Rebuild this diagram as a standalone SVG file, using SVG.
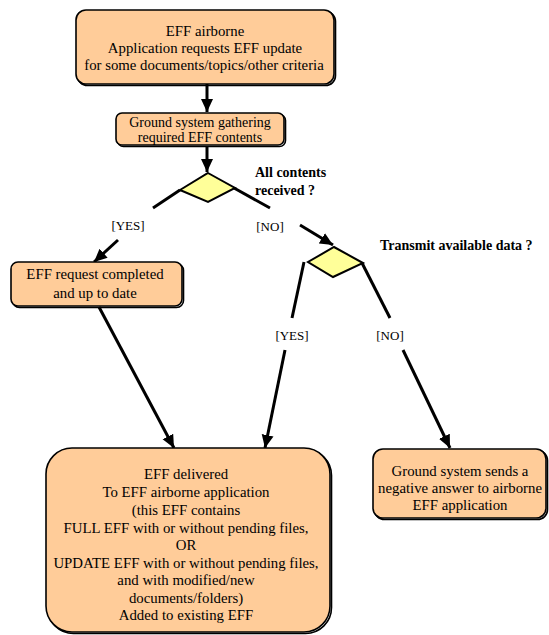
<svg xmlns="http://www.w3.org/2000/svg" width="549" height="635" viewBox="0 0 549 635">
  <style>
    .box { fill: #FFCC99; stroke: #000; stroke-width: 1.6; }
    .shadow { fill: none; stroke: #000; stroke-width: 1.6; }
    .dia { fill: #FFFF99; stroke: #000; stroke-width: 2; stroke-linejoin: miter; }
    .t { font-family: 'Liberation Serif', 'DejaVu Serif', 'Times New Roman', serif; font-size: 14.8px; fill: #000; text-anchor: middle; }
    .s { font-size: 14px; }
    .q { font-family: 'Liberation Serif', 'DejaVu Serif', 'Times New Roman', serif; font-size: 14px; font-weight: bold; fill: #000; }
    .lbl { font-family: 'Liberation Serif', 'DejaVu Serif', 'Times New Roman', serif; font-size: 13px; fill: #000; text-anchor: middle; }
    .edge { fill: none; stroke: #000; stroke-width: 3; stroke-linecap: butt; }
  </style>
  <defs>
    <marker id="arrow" markerUnits="userSpaceOnUse" markerWidth="14" markerHeight="14" viewBox="0 0 14 14" refX="13" refY="7" orient="auto">
      <path d="M0,1 L13,7 L0,13 Z" fill="#000"/>
    </marker>
  </defs>

  <rect width="549" height="635" fill="#fff"/>

  <!-- connectors -->
  <g id="connectors">
    <path class="edge" d="M207,84 L207,112" marker-end="url(#arrow)"/>
    <path class="edge" d="M207,146 L207,172" marker-end="url(#arrow)"/>
    <!-- decision 1: YES -->
    <path class="edge" d="M180,190 L153,208"/>
    <path class="edge" d="M118,240 L94,262" marker-end="url(#arrow)"/>
    <!-- decision 1: NO -->
    <path class="edge" d="M234,188 L270,208"/>
    <path class="edge" d="M300,225 L333,245" marker-end="url(#arrow)"/>
    <!-- decision 2: YES -->
    <path class="edge" d="M304,262 L292,318"/>
    <path class="edge" d="M285,350 L265,448" marker-end="url(#arrow)"/>
    <!-- decision 2: NO -->
    <path class="edge" d="M362,263 L390,318"/>
    <path class="edge" d="M403,350 L450,448" marker-end="url(#arrow)"/>
    <!-- completed -> delivered -->
    <path class="edge" d="M99,307 L174,448" marker-end="url(#arrow)"/>

    <text class="lbl" x="128" y="230">[YES]</text>
    <text class="lbl" x="270" y="231">[NO]</text>
    <text class="lbl" x="292" y="340">[YES]</text>
    <text class="lbl" x="390" y="340">[NO]</text>
  </g>

  <!-- EFF airborne request -->
  <g id="request">
    <rect class="shadow" x="77.5" y="11.5" width="258" height="74" rx="10"/>
    <rect class="box" x="76" y="10" width="258" height="74" rx="10"/>
    <text class="t" x="205" y="36">EFF airborne</text>
    <text class="t" x="205" y="53">Application requests EFF update</text>
    <text class="t" x="204" y="70">for some documents/topics/other criteria</text>
  </g>

  <!-- gathering -->
  <g id="gathering">
    <rect class="shadow" x="117.5" y="114.5" width="168" height="32" rx="6"/>
    <rect class="box" x="116" y="113" width="168" height="32" rx="6"/>
    <text class="t s" x="200" y="127">Ground system gathering</text>
    <text class="t s" x="200" y="142">required EFF contents</text>
  </g>

  <!-- decision 1 -->
  <g id="decision-contents">
    <path class="dia" d="M208,173 L235,188 L208,202 L180,190 Z"/>
    <text class="q" x="255" y="177">All contents</text>
    <text class="q" x="255" y="195">received ?</text>
  </g>

  <!-- decision 2 -->
  <g id="decision-transmit">
    <path class="dia" d="M334,247 L363,263 L333,277 L308,262 Z"/>
    <text class="q" x="380" y="250">Transmit available data ?</text>
  </g>

  <!-- completed -->
  <g id="completed">
    <rect class="shadow" x="12.5" y="263.5" width="171" height="44" rx="7"/>
    <rect class="box" x="11" y="262" width="171" height="44" rx="7"/>
    <text class="t" x="95" y="279">EFF request completed</text>
    <text class="t" x="95" y="298">and up to date</text>
  </g>

  <!-- delivered -->
  <g id="delivered">
    <rect class="shadow" x="47.5" y="449.5" width="284" height="184" rx="26"/>
    <rect class="box" x="46" y="448" width="284" height="184" rx="26"/>
    <text class="t" x="186" y="479">EFF delivered</text>
    <text class="t" x="186" y="497">To EFF airborne application</text>
    <text class="t" x="186" y="515">(this EFF contains</text>
    <text class="t" x="186" y="533">FULL EFF with or without pending files,</text>
    <text class="t" x="186" y="550">OR</text>
    <text class="t" x="186" y="568">UPDATE EFF with or without pending files,</text>
    <text class="t" x="186" y="585">and with modified/new</text>
    <text class="t" x="186" y="603">documents/folders)</text>
    <text class="t" x="186" y="620">Added to existing EFF</text>
  </g>

  <!-- negative answer -->
  <g id="negative">
    <rect class="shadow" x="374.5" y="450.5" width="173" height="69" rx="10"/>
    <rect class="box" x="373" y="449" width="173" height="69" rx="10"/>
    <text class="t" x="460" y="476">Ground system sends a</text>
    <text class="t" x="460" y="493">negative answer to airborne</text>
    <text class="t" x="460" y="510">EFF application</text>
  </g>
</svg>
